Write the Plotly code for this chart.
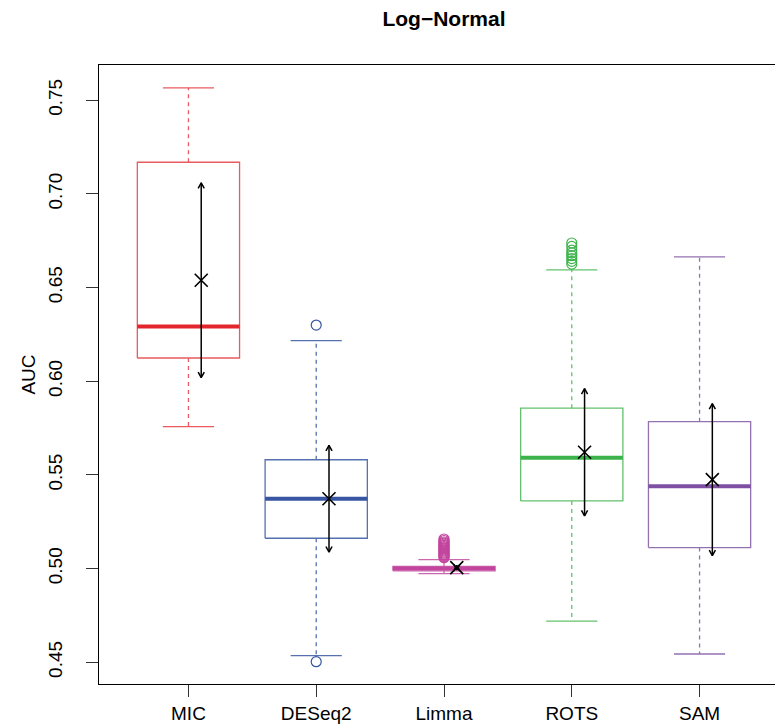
import plotly.graph_objects as go

# ---------------- data ----------------
methods = ["MIC", "DESeq2", "Limma", "ROTS", "SAM"]
q1 = [0.6124, 0.5162, 0.4988, 0.5361, 0.5112]
median = [0.6292, 0.5373, 0.5000, 0.5591, 0.5439]
q3 = [0.7169, 0.5581, 0.5012, 0.5856, 0.5784]
lower_whisker = [0.5758, 0.4535, 0.4973, 0.4720, 0.4544]
upper_whisker = [0.7566, 0.6217, 0.5048, 0.6594, 0.6664]
means = [0.6539, 0.5373, 0.5005, 0.5621, 0.5475]
sds = [0.0520, 0.0285, 0.0012, 0.0340, 0.0406]
outliers = [
    [],
    [0.6300, 0.4503],
    [0.5058, 0.5064, 0.5070, 0.5076, 0.5082, 0.5088, 0.5094, 0.5100,
     0.5106, 0.5112, 0.5118, 0.5124, 0.5130, 0.5136, 0.5142, 0.5150, 0.5158],
    [0.6625, 0.6640, 0.6655, 0.6670, 0.6685, 0.6700, 0.6720, 0.6738],
    [],
]
y_ticks = [0.45, 0.50, 0.55, 0.60, 0.65, 0.70, 0.75]

median_colors = ["#E3262B", "#3755A3", "#C2449C", "#3BB34A", "#7E4FA3"]
box_colors = ["#EA5A5E", "#5571AE", "#CC66AE", "#63C16D", "#9371B1"]

# ---------------- style constants ----------------
BOX_HALF = 0.4
CAP_HALF = 0.2
MEAN_DX = 0.1
HEAD_DX = 0.024
HEAD_DY = 0.0030

fig = go.Figure()

for i, name in enumerate(methods):
    c = i + 1
    bc = box_colors[i]
    mc = median_colors[i]
    # box
    fig.add_trace(go.Scatter(
        x=[c - BOX_HALF, c + BOX_HALF, c + BOX_HALF, c - BOX_HALF, c - BOX_HALF],
        y=[q1[i], q1[i], q3[i], q3[i], q1[i]],
        mode="lines", line=dict(color=bc, width=1.3),
        hoverinfo="skip", showlegend=False))
    # whiskers (dashed)
    fig.add_trace(go.Scatter(
        x=[c, c, None, c, c],
        y=[q3[i], upper_whisker[i], None, q1[i], lower_whisker[i]],
        mode="lines", line=dict(color=bc, width=1.3, dash="4px,4px"),
        hoverinfo="skip", showlegend=False))
    # caps
    fig.add_trace(go.Scatter(
        x=[c - CAP_HALF, c + CAP_HALF, None, c - CAP_HALF, c + CAP_HALF],
        y=[upper_whisker[i], upper_whisker[i], None, lower_whisker[i], lower_whisker[i]],
        mode="lines", line=dict(color=bc, width=1.3),
        hoverinfo="skip", showlegend=False))
    # median
    fig.add_trace(go.Scatter(
        x=[c - BOX_HALF, c + BOX_HALF], y=[median[i], median[i]],
        mode="lines", line=dict(color=mc, width=4),
        hoverinfo="skip", showlegend=False))
    # outliers
    if outliers[i]:
        fig.add_trace(go.Scatter(
            x=[c] * len(outliers[i]), y=outliers[i], mode="markers",
            marker=dict(symbol="circle-open", size=10, color=mc, line=dict(width=1.2)),
            hoverinfo="skip", showlegend=False))
    # mean +- sd arrow
    xa = c + MEAN_DX
    top = means[i] + sds[i]
    bot = means[i] - sds[i]
    fig.add_trace(go.Scatter(
        x=[xa, xa, None,
           xa - HEAD_DX, xa, xa + HEAD_DX, None,
           xa - HEAD_DX, xa, xa + HEAD_DX],
        y=[bot, top, None,
           top - HEAD_DY, top, top - HEAD_DY, None,
           bot + HEAD_DY, bot, bot + HEAD_DY],
        mode="lines", line=dict(color="black", width=1.5),
        hoverinfo="skip", showlegend=False))
    fig.add_trace(go.Scatter(
        x=[xa], y=[means[i]], mode="markers",
        marker=dict(symbol="x-thin", size=13, color="black",
                    line=dict(width=1.6, color="black")),
        hoverinfo="skip", showlegend=False))

font_family = "Liberation Sans, Arial, sans-serif"

fig.update_layout(
    width=783, height=724,
    margin=dict(l=91, r=2, t=57, b=48),
    paper_bgcolor="white", plot_bgcolor="white",
    font=dict(family=font_family, size=19, color="black"),
    title=dict(text="<b>Log\u2212Normal</b>", x=0.5, xref="paper",
               y=1 - 11 / 724, yref="container", yanchor="middle",
               font=dict(size=21, family=font_family, color="black")),
    xaxis=dict(range=[0.3, 5.7], tickmode="array",
               tickvals=[1, 2, 3, 4, 5], ticktext=methods,
               showgrid=False, zeroline=False,
               showline=True, mirror=True, linecolor="black", linewidth=1.3,
               ticks="outside", ticklen=12, tickwidth=1.2, tickcolor="#333",
               ticklabelstandoff=0,
               tickfont=dict(size=19, family=font_family)),
    yaxis=dict(range=[0.4384, 0.7688], tickmode="array",
               tickvals=y_ticks, ticktext=[f"{v:.2f}" for v in y_ticks],
               showgrid=False, zeroline=False,
               showline=True, mirror=True, linecolor="black", linewidth=1.3,
               ticks="outside", ticklen=12, tickwidth=1.2, tickcolor="#333",
               tickangle=-90, ticklabelstandoff=16,
               tickfont=dict(size=19, family=font_family),
               title=dict(text="AUC", standoff=4,
                          font=dict(size=19, family=font_family))),
)

fig.write_html("out.html")
